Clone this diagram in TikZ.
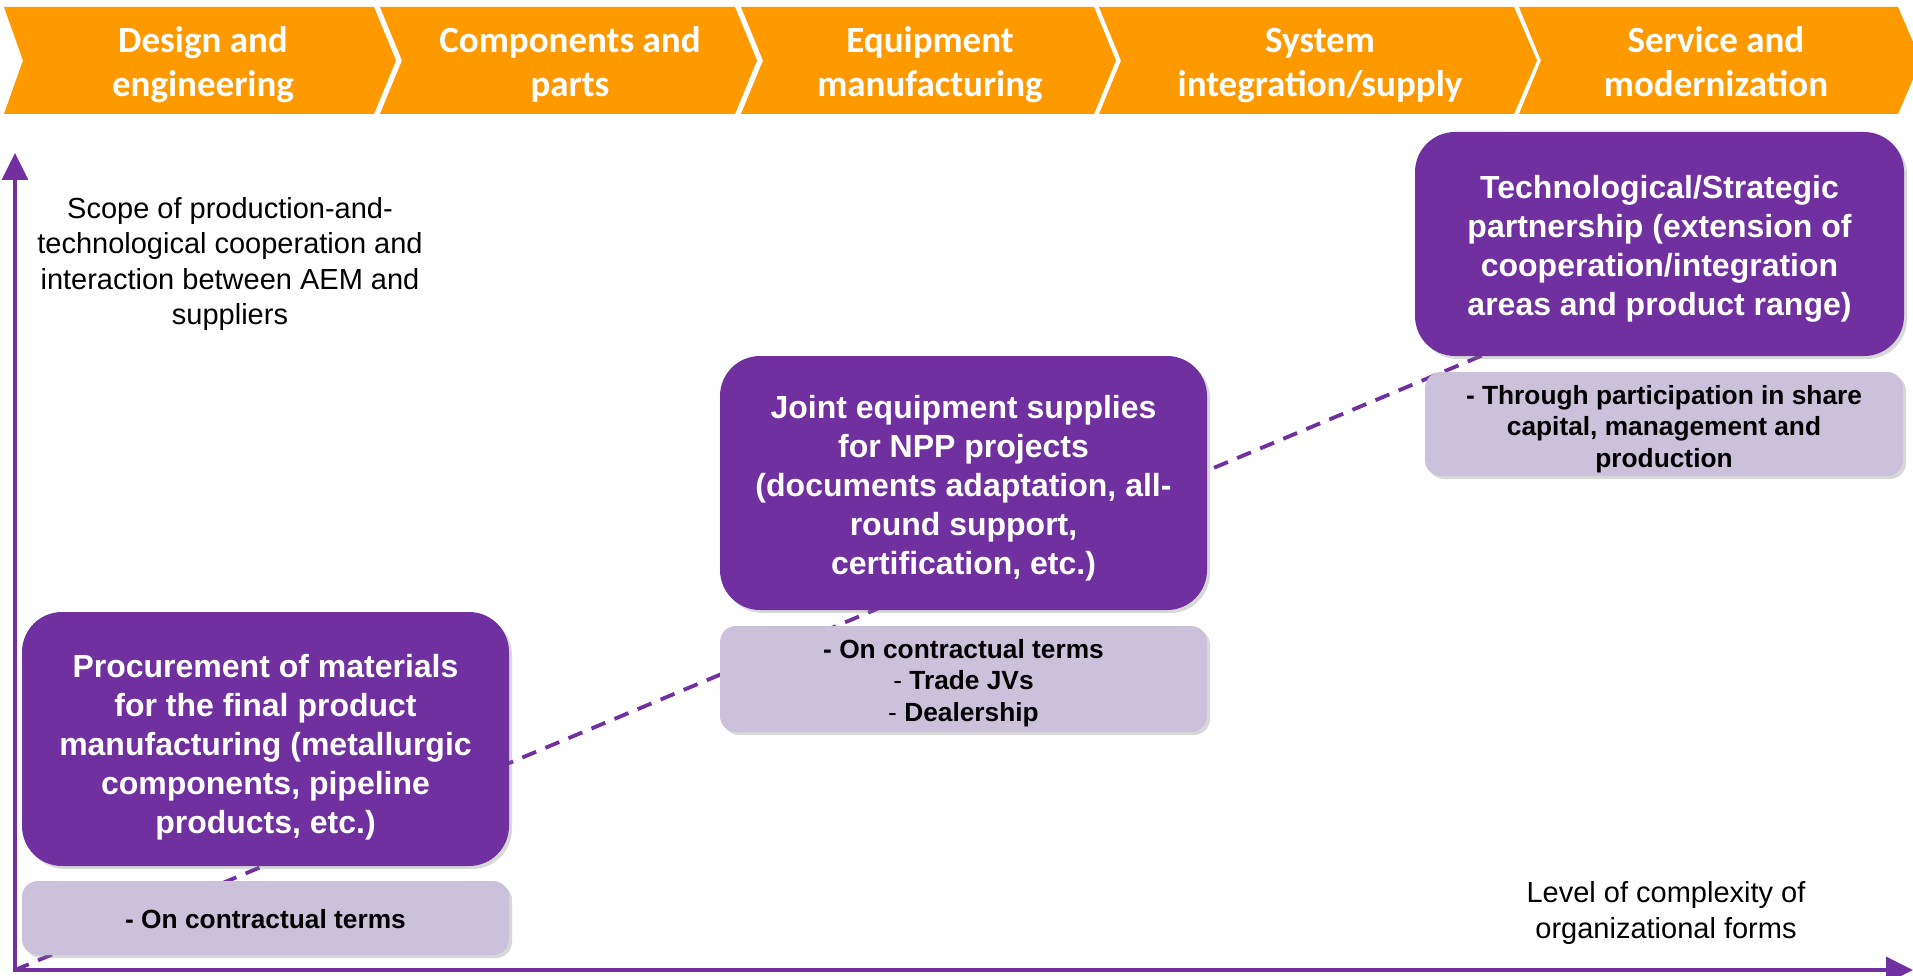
\documentclass[tikz,border=0pt]{standalone}
\usepackage{fontspec}
\setmainfont{Liberation Sans}
\newfontfamily\chevfont{Carlito}
\usetikzlibrary{arrows.meta,shadows}
\definecolor{aempurple}{HTML}{7030A0}
\definecolor{aemlight}{HTML}{CCC1DA}
\definecolor{aemorange}{HTML}{FF9900}
\begin{document}
\begin{tikzpicture}[x=1pt,y=-1pt,
  chev/.style={fill=aemorange},
  chevtext/.style={text=white, font=\chevfont\bfseries\fontsize{37}{44}\selectfont, align=center, inner sep=0pt},
  mainbox/.style={fill=aempurple, rounded corners=40pt, inner sep=0pt, minimum width=487pt,
    drop shadow={opacity=0.3, shadow xshift=3pt, shadow yshift=-3pt}},
  maintext/.style={text=white, inner sep=0pt, font=\bfseries\fontsize{32}{39}\selectfont, align=center},
  subbox/.style={fill=aemlight, rounded corners=16pt, inner sep=0pt,
    drop shadow={opacity=0.3, shadow xshift=3pt, shadow yshift=-3pt}},
  subtext/.style={text=black, inner sep=0pt, font=\fontsize{26.3}{31.6}\selectfont, align=center},
  axislabel/.style={text=black, font=\fontsize{29}{35.5}\selectfont, align=center, inner sep=0pt},
  axisline/.style={draw=aempurple, line width=3.6pt, {Triangle[length=27pt,width=26pt]}-{Triangle[length=27pt,width=26pt]}},
  trend/.style={draw=aempurple, line width=3.8pt, dash pattern=on 15pt off 10pt}
]
\useasboundingbox (0,0) rectangle (1913,976);
\fill[white] (0,0) rectangle (1913,976);

% chevrons
\fill[chev] (4,7) -- (374,7) -- (396,60.5) -- (374,114) -- (4,114) -- (23,60.5) -- cycle;
\fill[chev] (380,7) -- (735,7) -- (757,60.5) -- (735,114) -- (380,114) -- (402,60.5) -- cycle;
\fill[chev] (741,7) -- (1094,7) -- (1116,60.5) -- (1094,114) -- (741,114) -- (763,60.5) -- cycle;
\fill[chev] (1099,7) -- (1514,7) -- (1537,60.5) -- (1514,114) -- (1099,114) -- (1121,60.5) -- cycle;
\fill[chev] (1519,7) -- (1898,7) -- (1921,60.5) -- (1898,114) -- (1519,114) -- (1541,60.5) -- cycle;

\node[chevtext] (c1) at (203,66) {\strut Design and\\\strut engineering};
\node[chevtext] (c2) at (570,66) {\strut Components and\\\strut parts};
\node[chevtext] (c3) at (930,66) {\strut Equipment\\\strut manufacturing};
\node[chevtext] (c4) at (1320,66) {\strut System\\\strut integration/supply};
\node[chevtext] (c5) at (1716,66) {\strut Service and\\\strut modernization};

% axes
\coordinate (origin) at (15,970);
\coordinate (ytop) at (15,153);
\coordinate (xend) at (1913,970);
\coordinate (trendend) at (1500,348);
\draw[trend] (origin) -- (trendend);
\draw[axisline] (ytop) -- (origin) -- (xend);

\node[axislabel] (ylab) at (230,264) {Scope of production-and-\\technological cooperation and\\interaction between AEM and\\suppliers};
\node[axislabel] (xlab) at (1666,913) {Level of complexity of\\organizational forms};

% boxes
\node[mainbox, minimum height=254pt] (b1) at (265.5,739) {};
\node[maintext] (t1) at (265.5,747)
  {Procurement of materials\\for the final product\\manufacturing (metallurgic\\components, pipeline\\products, etc.)};
\node[subbox, minimum width=487pt, minimum height=74pt] (s1) at (265.5,918) {};
\node[subtext] (u1) at (265.5,919) {\textbf{- On contractual terms}};

\node[mainbox, minimum height=254pt] (b2) at (963.5,483) {};
\node[maintext] (t2) at (963.5,488)
  {Joint equipment supplies\\for NPP projects\\(documents adaptation, all-\\round support,\\certification, etc.)};
\node[subbox, minimum width=487pt, minimum height=106pt] (s2) at (963.5,679) {};
\node[subtext] (u2) at (963.5,683)
  {\textbf{- On contractual terms}\\- \textbf{Trade JVs}\\- \textbf{Dealership}};

\node[mainbox, minimum width=489pt, minimum height=224pt] (b3) at (1659.5,244) {};
\node[maintext] (t3) at (1659.5,249)
  {Technological/Strategic\\partnership (extension of\\cooperation/integration\\areas and product range)};
\node[subbox, minimum width=478pt, minimum height=104pt] (s3) at (1664,424) {};
\node[subtext] (u3) at (1664,429)
  {\textbf{- Through participation in share}\\\textbf{capital, management and}\\\textbf{production}};
\end{tikzpicture}
\end{document}
